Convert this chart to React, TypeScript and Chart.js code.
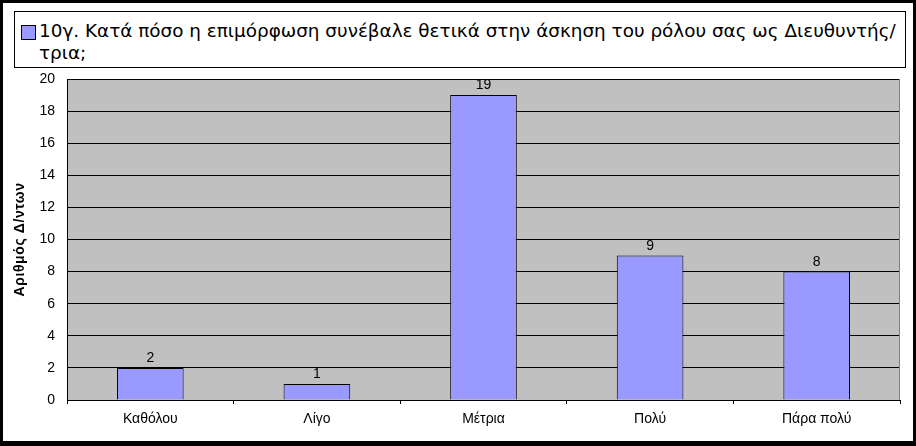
import { useEffect, useRef } from 'react';
import { Chart, registerables } from 'chart.js';

Chart.register(...registerables);

const categories = ['Καθόλου', 'Λίγο', 'Μέτρια', 'Πολύ', 'Πάρα πολύ'];
const counts = [2, 1, 19, 9, 8];
const seriesLine1 = '10γ. Κατά πόσο η επιμόρφωση συνέβαλε θετικά στην άσκηση του ρόλου σας ως Διευθυντής/';
const seriesLine2 = 'τρια;';
const yTitle = 'Αριθμός Δ/ντων';

const BAR = '#9999FF';
const PLOT_BG = '#C0C0C0';

// grey plot area + its grey right border
const plotArea = {
  id: 'plotArea',
  beforeDraw(chart: Chart) {
    const { ctx, chartArea: a } = chart;
    ctx.save();
    ctx.fillStyle = PLOT_BG;
    ctx.fillRect(a.left, a.top, a.right - a.left, a.bottom - a.top);
    ctx.restore();
  },
  afterDraw(chart: Chart) {
    const { ctx, chartArea: a } = chart;
    ctx.save();
    ctx.strokeStyle = '#808080';
    ctx.lineWidth = 1;
    ctx.beginPath();
    ctx.moveTo(Math.round(a.right) - 0.5, a.top);
    ctx.lineTo(Math.round(a.right) - 0.5, a.bottom);
    ctx.stroke();
    ctx.restore();
  },
};

// value on top of each bar
const barValues = {
  id: 'barValues',
  afterDatasetsDraw(chart: Chart) {
    const { ctx } = chart;
    const meta = chart.getDatasetMeta(0);
    ctx.save();
    ctx.font = '14px "Liberation Sans", Arial, sans-serif';
    ctx.fillStyle = '#000';
    ctx.textAlign = 'center';
    ctx.textBaseline = 'alphabetic';
    meta.data.forEach((bar: any, i: number) => {
      ctx.fillText(String(counts[i]), bar.x, bar.y - 6);
    });
    ctx.restore();
  },
};

// rotated y axis title
const axisTitle = {
  id: 'axisTitle',
  afterDraw(chart: Chart) {
    const { ctx, chartArea: a } = chart;
    ctx.save();
    ctx.translate(20, (a.top + a.bottom) / 2);
    ctx.rotate(-Math.PI / 2);
    ctx.font = 'bold 14px "Liberation Sans", Arial, sans-serif';
    (ctx as any).letterSpacing = '0.6px';
    ctx.fillStyle = '#000';
    ctx.textAlign = 'center';
    ctx.textBaseline = 'middle';
    ctx.fillText(yTitle, 0, 0);
    ctx.restore();
  },
};

export default function App() {
  const canvasRef = useRef<HTMLCanvasElement>(null);

  useEffect(() => {
    if (!canvasRef.current) return;
    const chart = new Chart(canvasRef.current, {
      type: 'bar',
      data: {
        labels: categories,
        datasets: [
          {
            label: seriesLine1 + seriesLine2,
            data: counts,
            backgroundColor: BAR,
            borderColor: '#000',
            borderWidth: 1,
            barPercentage: 0.4,
            categoryPercentage: 1,
          },
        ],
      },
      options: {
        responsive: false,
        animation: false,
        events: [],
        layout: { padding: { left: 0, top: 79, right: 16, bottom: 0 } },
        plugins: {
          legend: { display: false },
          tooltip: { enabled: false },
        },
        scales: {
          x: {
            offset: true,
            grid: {
              offset: true,
              drawOnChartArea: false,
              drawTicks: true,
              tickLength: 4,
              color: '#000',
            },
            border: { display: true, color: '#000', width: 1 },
            ticks: {
              color: '#000',
              padding: 7,
              font: { family: '"Liberation Sans", Arial, sans-serif', size: 14 },
            },
            afterFit: (s: any) => { s.height = 46; },
          },
          y: {
            min: 0,
            max: 20,
            ticks: {
              stepSize: 2,
              color: '#000',
              padding: 12,
              font: { family: '"Liberation Sans", Arial, sans-serif', size: 14 },
            },
            grid: { color: '#000', lineWidth: 1, drawTicks: false },
            border: { display: true, color: '#000', width: 1 },
            afterFit: (s: any) => { s.width = 67; },
          },
        },
      },
      plugins: [plotArea, barValues, axisTitle],
    });
    return () => { chart.destroy(); };
  }, []);

  return (
    <div style={{ position: 'absolute', left: 0, top: 0, width: 916, height: 446, background: '#000' }}>
      <div style={{ position: 'absolute', left: 3, top: 3, width: 910, height: 438, background: '#fff' }} />
      <canvas ref={canvasRef} width={916} height={446} style={{ position: 'absolute', left: 0, top: 0 }} />
      <div
        style={{
          position: 'absolute',
          left: 14,
          top: 11,
          width: 890,
          height: 55,
          border: '1px solid #000',
          background: '#fff',
        }}
      >
        <div
          style={{
            position: 'absolute',
            left: 6,
            top: 13,
            width: 13,
            height: 13,
            background: BAR,
            border: '1px solid #000',
          }}
        />
        <div
          style={{
            position: 'absolute',
            left: 24,
            top: 8,
            whiteSpace: 'nowrap',
            fontFamily: '"DejaVu Sans", sans-serif',
            fontSize: 18.4,
            lineHeight: '22px',
            color: '#000',
          }}
        >
          {seriesLine1}
          <br />
          {seriesLine2}
        </div>
      </div>
    </div>
  );
}
